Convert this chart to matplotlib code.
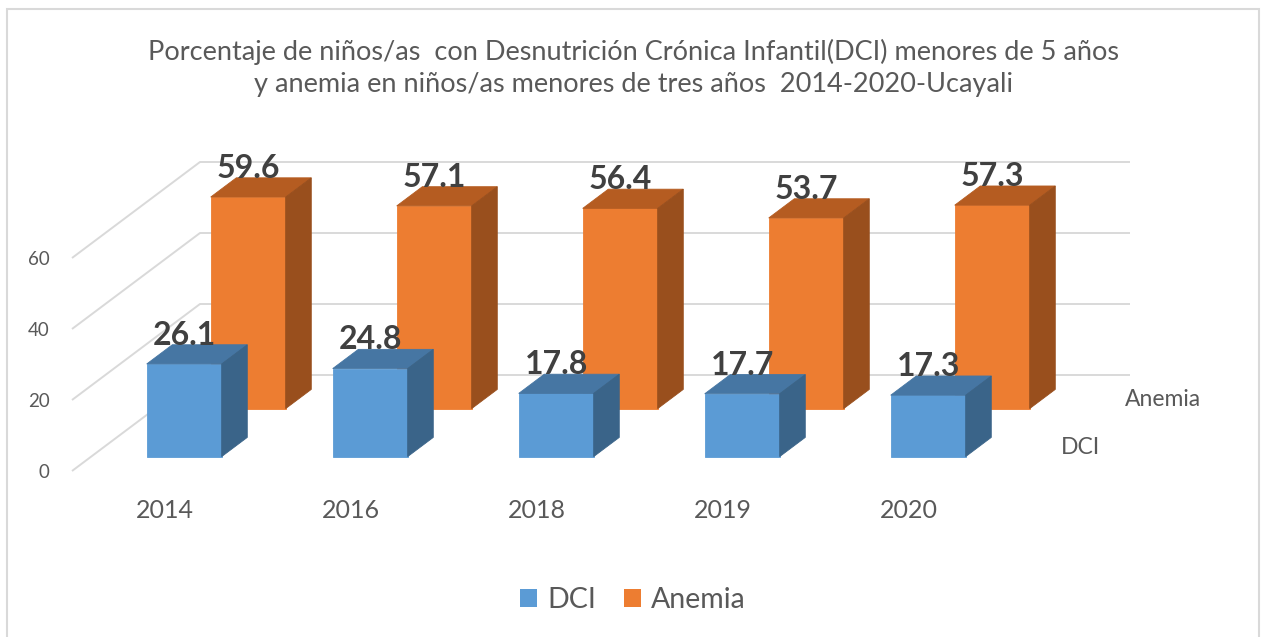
import matplotlib
matplotlib.use("Agg")
import matplotlib.pyplot as plt
from matplotlib.patches import Polygon, Rectangle, Patch

plt.rcParams['font.family'] = ['Lato', 'DejaVu Sans']

# datos
anios = ["2014", "2016", "2018", "2019", "2020"]
dci = [26.1, 24.8, 17.8, 17.7, 17.3]
anemia = [59.6, 57.1, 56.4, 53.7, 57.3]
series = ["DCI", "Anemia"]
ticks_y = [0, 20, 40, 60]

titulo = ("Porcentaje de niños/as  con Desnutrición Crónica Infantil(DCI) menores de 5 años\n"
          "y anemia en niños/as menores de tres años  2014-2020-Ucayali")

# colores (frente, arriba, lado)
col_dci = ("#5B9BD5", "#4676A3", "#3A6489")
col_ane = ("#ED7D31", "#B55C21", "#994F1D")
gris = "#595959"

W, H = 1261, 637
fig = plt.figure(figsize=(W / 100, H / 100), dpi=100)
ax = fig.add_axes([72 / W, (H - 471) / H, 930 / W, 213 / H])
ax.set_xlim(0, len(anios))
ax.set_ylim(0, 60)
for s in ax.spines.values():
    s.set_visible(False)

# profundidad oblicua en unidades de datos
ddx = 128 / 186
ddy = 96 / 3.55


def proj(x, v, z):
    return (x + z * ddx, v + z * ddy)


# grilla: pared izquierda y pared de fondo
n = len(anios)
for v in ticks_y:
    p0, p1, p2 = proj(0, v, 0), proj(0, v, 1), proj(n, v, 1)
    ax.plot([p0[0], p1[0], p2[0]], [p0[1], p1[1], p2[1]], color="#D9D9D9",
            lw=1.4, zorder=1, clip_on=False, solid_capstyle="butt")

ancho = 0.403
prof = 0.2


def caja(i, v, z0, cols, zo):
    xl, xr = i + 0.5 - ancho / 2, i + 0.5 + ancho / 2
    z1 = z0 + prof
    frente = [proj(xl, 0, z0), proj(xr, 0, z0), proj(xr, v, z0), proj(xl, v, z0)]
    arriba = [proj(xl, v, z0), proj(xr, v, z0), proj(xr, v, z1), proj(xl, v, z1)]
    lado = [proj(xr, 0, z0), proj(xr, 0, z1), proj(xr, v, z1), proj(xr, v, z0)]
    for pts, c in zip((frente, arriba, lado), cols):
        ax.add_patch(Polygon(pts, closed=True, facecolor=c, edgecolor=c,
                             lw=0.6, zorder=zo, clip_on=False))
    tx, _ = proj(i + 0.5, v, z0)
    _, ty = proj(i + 0.5, v, z1)
    ax.text(tx, ty, f"{v:.1f}", ha="center", va="baseline", fontsize=23,
            fontweight="bold", color="#404040", zorder=zo + 5, clip_on=False)


for i, v in enumerate(anemia):
    caja(i, v, 0.65, col_ane, 2)
for i, v in enumerate(dci):
    caja(i, v, 0.15, col_dci, 3)

# ejes
ax.set_xticks([i + 0.5 for i in range(n)])
ax.set_xticklabels(anios, fontsize=18, color=gris)
ax.set_yticks(ticks_y)
ax.set_yticklabels([str(t) for t in ticks_y], fontsize=13.5, color=gris)
ax.tick_params(axis="x", length=0, pad=20)
ax.tick_params(axis="y", length=0, pad=16)

# etiquetas de series en el eje de profundidad
for nombre, zc in zip(series, (0.25, 0.75)):
    ax.annotate(nombre, proj(n, 0, zc), xytext=(19.5, 0), textcoords="offset points",
                ha="left", va="center", fontsize=16.5, color=gris,
                annotation_clip=False)

fig.text(633 / W, 1 - 68 / H, titulo, ha="center", va="center", fontsize=19.5,
         color=gris, linespacing=1.33)

handles = [Patch(facecolor=col_dci[0]), Patch(facecolor=col_ane[0])]
fig.legend(handles, series, loc="center", bbox_to_anchor=(633 / W, 1 - 600 / H),
           ncol=2, frameon=False, fontsize=20.5, handlelength=0.6, handleheight=0.6,
           handletextpad=0.35, columnspacing=1.0, labelcolor=gris)

fig.patches.append(Rectangle((7 / W, -0.02), 1252 / W, (H - 9) / H + 0.02,
                             transform=fig.transFigure, fill=False,
                             edgecolor="#D9D9D9", lw=1.5))

fig.savefig("out.png", dpi=100)
